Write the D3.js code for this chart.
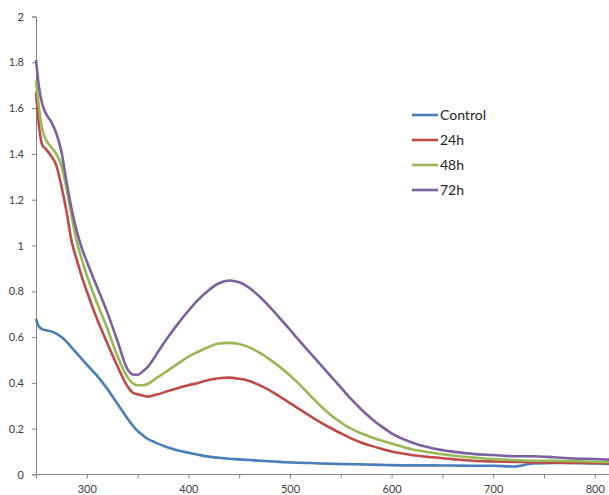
<!DOCTYPE html>
<html>
<head>
<meta charset="utf-8">
<script src="https://cdn.jsdelivr.net/npm/d3@7"></script>
<style>
  html, body { margin: 0; padding: 0; background: #fff; }
  svg { display: block; }
  .tick text { font-family: "Lato", "Liberation Sans", sans-serif; font-size: 11px; fill: #404040; }
  .legend text { font-family: "Lato", "Liberation Sans", sans-serif; font-size: 14px; fill: #262626; }
</style>
</head>
<body>
<svg id="chart" width="609" height="495"></svg>
<script>
// Wavelength grid (nm) shared by all spectra
const wavelength = [250,253,256,260,265,270,275,280,285,290,295,300,310,320,330,340,345,350,355,360,365,370,380,390,400,410,420,430,440,450,460,470,480,490,500,510,520,530,540,550,560,570,580,590,600,620,640,660,680,700,720,740,760,780,800,814];

// Absorbance for each sample
const control = [0.68,0.645,0.635,0.63,0.625,0.615,0.60,0.58,0.555,0.53,0.505,0.48,0.432,0.375,0.31,0.245,0.215,0.19,0.172,0.155,0.145,0.135,0.118,0.105,0.095,0.086,0.078,0.073,0.069,0.066,0.063,0.060,0.058,0.055,0.053,0.051,0.050,0.048,0.047,0.046,0.045,0.044,0.043,0.042,0.041,0.040,0.040,0.039,0.038,0.038,0.035,0.048,0.050,0.050,0.048,0.046];
const h24 = [1.67,1.52,1.44,1.42,1.39,1.35,1.26,1.15,1.02,0.94,0.865,0.80,0.68,0.575,0.475,0.385,0.358,0.35,0.345,0.34,0.345,0.35,0.365,0.378,0.39,0.40,0.413,0.42,0.423,0.418,0.408,0.39,0.367,0.34,0.312,0.283,0.255,0.228,0.203,0.18,0.158,0.14,0.125,0.112,0.10,0.085,0.075,0.067,0.060,0.057,0.055,0.053,0.052,0.050,0.050,0.048];
const h48 = [1.72,1.60,1.51,1.46,1.43,1.40,1.35,1.25,1.13,1.02,0.94,0.87,0.75,0.64,0.52,0.425,0.40,0.39,0.39,0.395,0.41,0.425,0.455,0.485,0.515,0.537,0.557,0.572,0.575,0.57,0.555,0.532,0.503,0.47,0.432,0.39,0.345,0.30,0.26,0.228,0.20,0.18,0.163,0.148,0.135,0.11,0.095,0.083,0.074,0.067,0.063,0.060,0.060,0.058,0.056,0.054];
const h72 = [1.81,1.69,1.62,1.575,1.54,1.49,1.41,1.28,1.16,1.065,0.99,0.93,0.82,0.71,0.585,0.46,0.437,0.435,0.45,0.47,0.50,0.535,0.60,0.66,0.715,0.765,0.805,0.835,0.847,0.84,0.815,0.777,0.732,0.683,0.632,0.58,0.53,0.48,0.43,0.38,0.33,0.285,0.245,0.21,0.18,0.14,0.115,0.10,0.09,0.085,0.08,0.08,0.075,0.07,0.068,0.065];

const seriesNames = ["Control", "24h", "48h", "72h"];
const seriesValues = [control, h24, h48, h72];
const seriesColors = ["#4a7ebb", "#be4b48", "#98b954", "#7d60a0"];

const xTicks = [250,300,350,400,450,500,550,600,650,700,750,800];
const xLabels = [300,400,500,600,700,800];
const yTicks = [0,0.2,0.4,0.6,0.8,1,1.2,1.4,1.6,1.8,2];

const svg = d3.select("#chart");
const x = d3.scaleLinear().domain([250, 814]).range([36, 609]);
const y = d3.scaleLinear().domain([0, 2]).range([474.5, 16.5]);

// Y axis
const yAxis = svg.append("g")
  .attr("transform", "translate(36,0)")
  .call(d3.axisLeft(y).tickValues(yTicks).tickSize(4).tickPadding(8)
    .tickFormat(d => d3.format("~g")(d)));
yAxis.select(".domain").attr("stroke", "#868686");
yAxis.selectAll(".tick line").attr("stroke", "#868686");

// X axis: minor ticks every 50, labels every 100
const xAxis = svg.append("g")
  .attr("transform", "translate(0,474.5)")
  .call(d3.axisBottom(x).tickValues(xTicks).tickSize(4).tickPadding(7)
    .tickFormat(d => xLabels.includes(d) ? d : ""));
xAxis.select(".domain").attr("stroke", "#868686").attr("d", "M36,0H609");
xAxis.selectAll(".tick line").attr("stroke", "#868686");

// Spectra
const line = d3.line()
  .x((d, i) => x(wavelength[i]))
  .y(d => y(d))
  .curve(d3.curveMonotoneX);

seriesValues.forEach((vals, k) => {
  svg.append("path")
    .datum(vals)
    .attr("fill", "none")
    .attr("stroke", seriesColors[k])
    .attr("stroke-width", 2.6)
    .attr("stroke-linejoin", "round")
    .attr("d", line);
});

// Legend
const legend = svg.append("g").attr("class", "legend");
seriesNames.forEach((name, k) => {
  const ly = 115 + k * 25;
  legend.append("line")
    .attr("x1", 412).attr("x2", 438)
    .attr("y1", ly).attr("y2", ly)
    .attr("stroke", seriesColors[k]).attr("stroke-width", 2.6);
  legend.append("text")
    .attr("x", 440).attr("y", ly)
    .attr("dy", "0.35em")
    .text(name);
});
</script>
</body>
</html>
